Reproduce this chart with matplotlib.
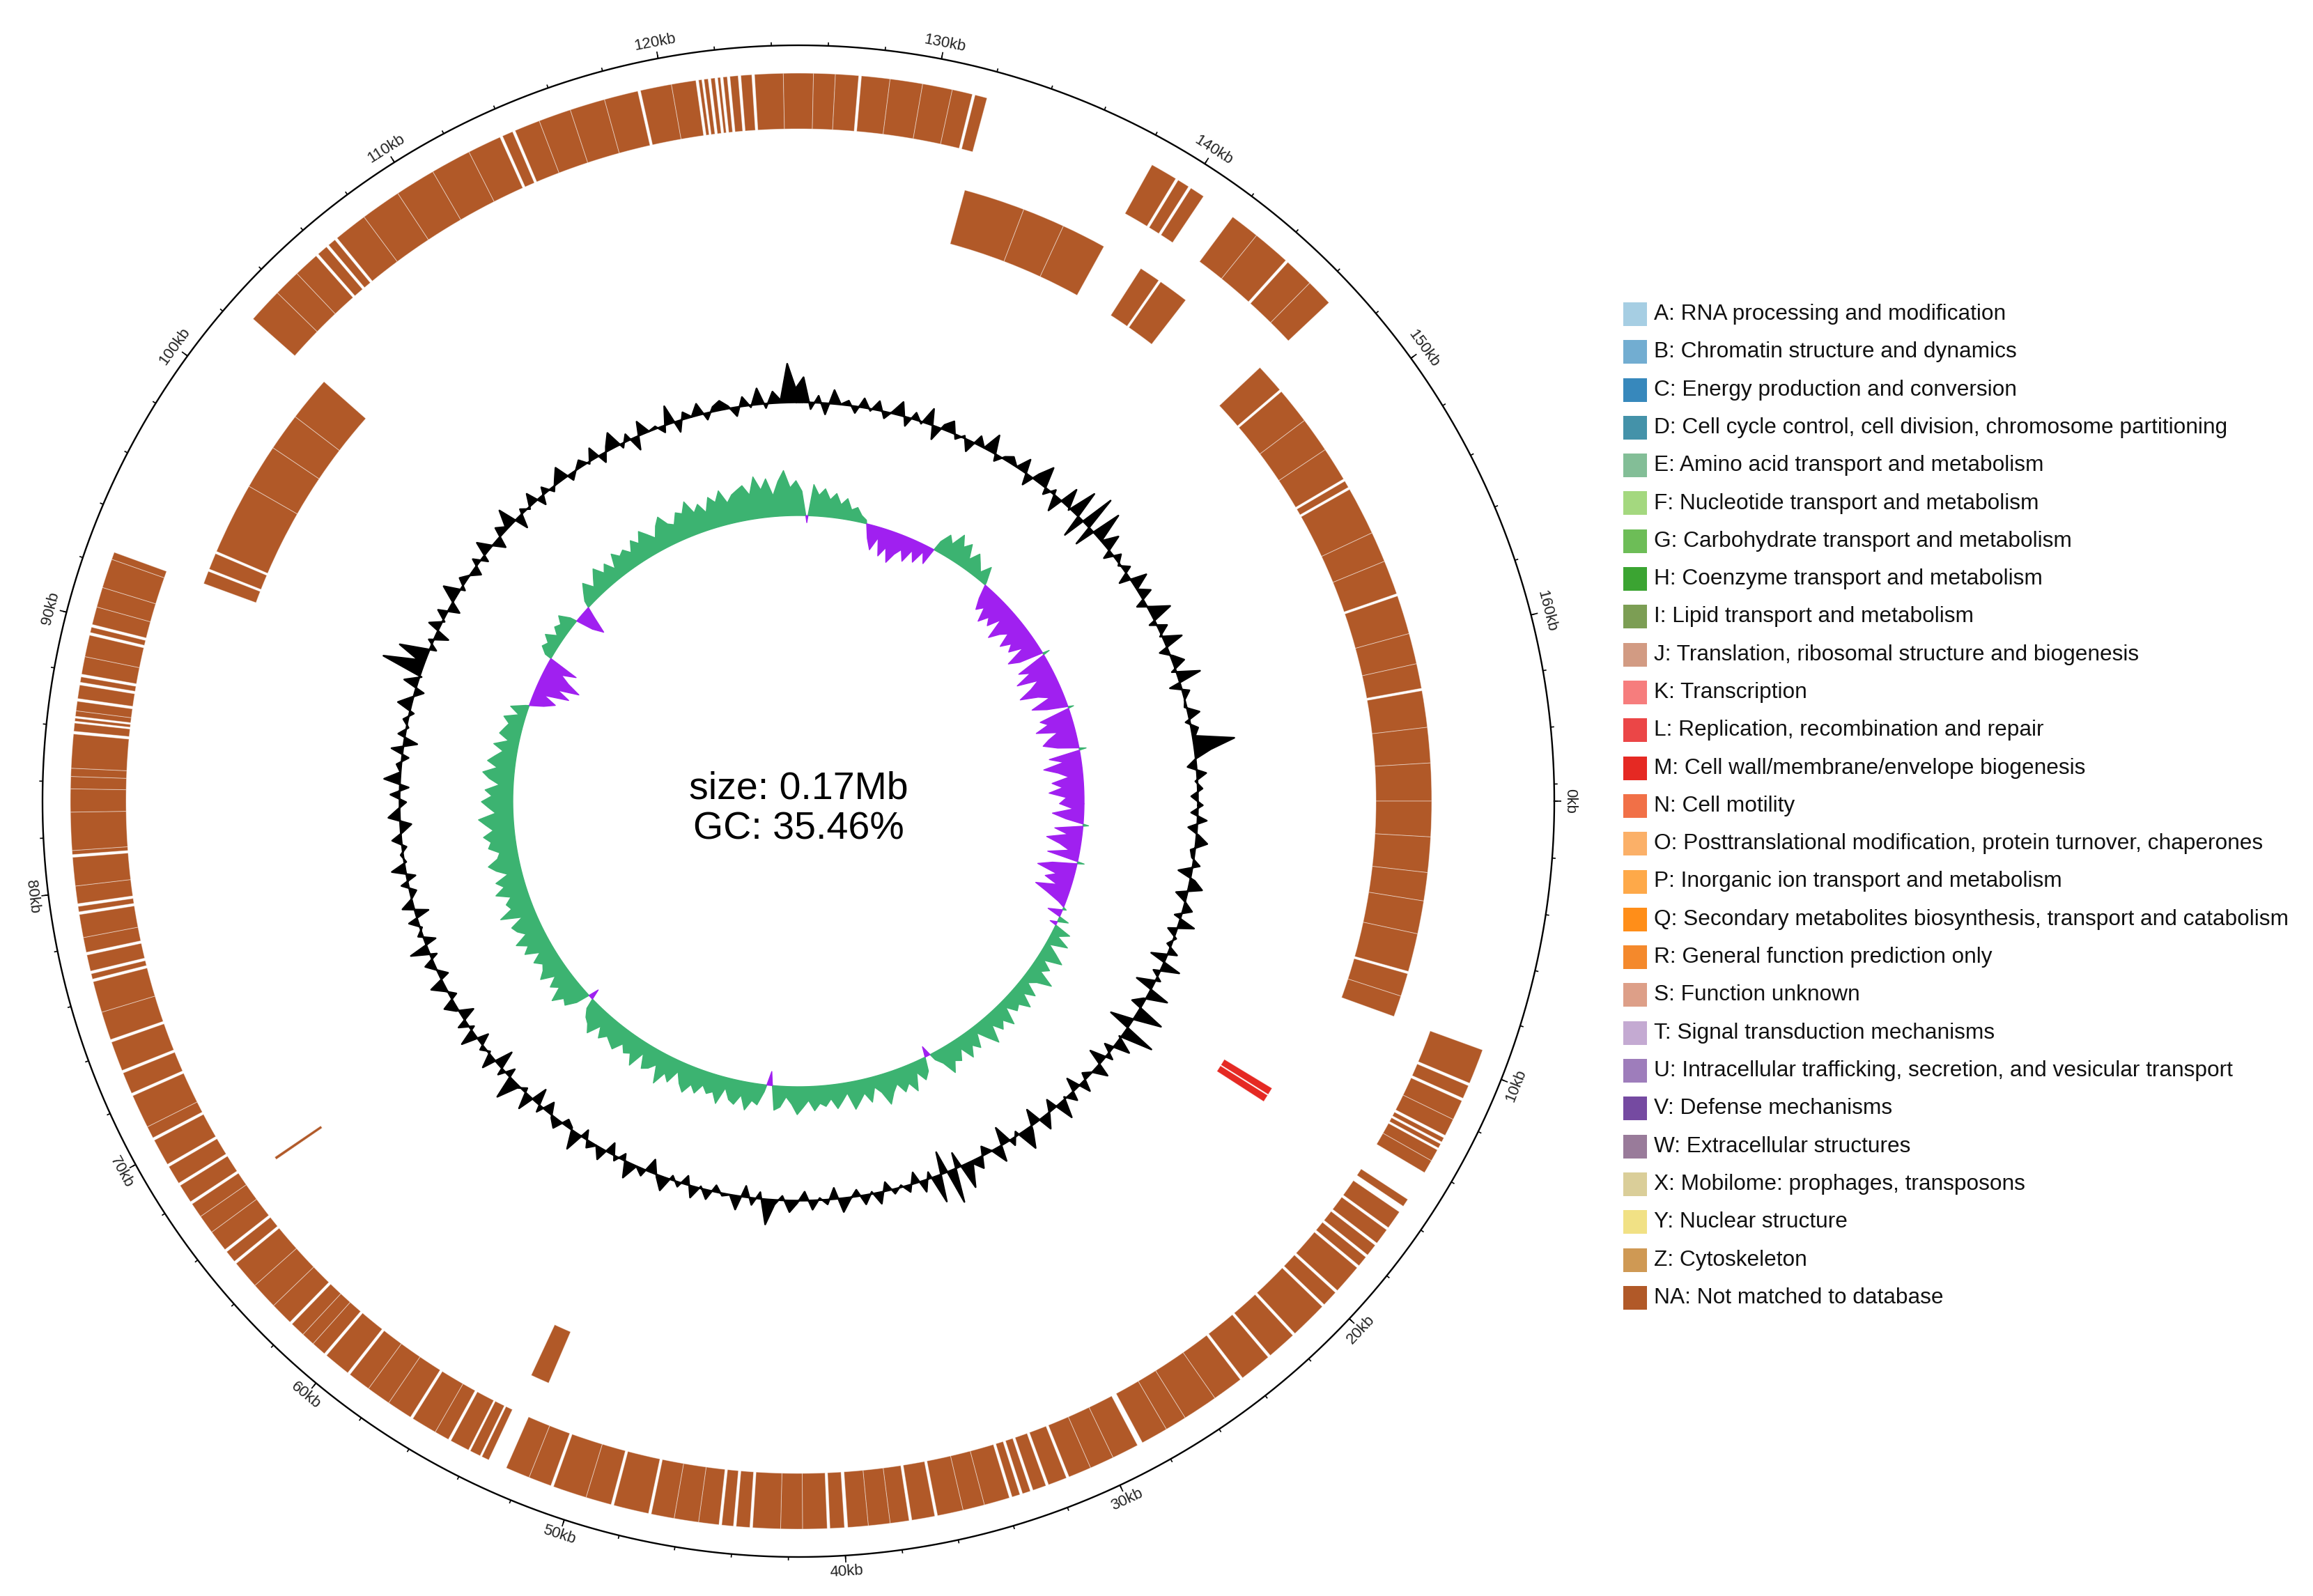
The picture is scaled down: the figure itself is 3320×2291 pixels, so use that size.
import numpy as np
import matplotlib
matplotlib.use("Agg")
import matplotlib.pyplot as plt
from matplotlib.patches import Rectangle
from matplotlib.colors import LinearSegmentedColormap, to_hex

plt.rcParams["font.family"] = ["Liberation Sans", "DejaVu Sans"]

# --- Data ---
genome_kb = 166.6
gc_mean = 35.46
window_kb = 0.5

cog_codes = list("ABCDEFGHIJKLMNOPQRSTUVWXYZ") + ["NA"]
cog_names = [
    "RNA processing and modification",
    "Chromatin structure and dynamics",
    "Energy production and conversion",
    "Cell cycle control, cell division, chromosome partitioning",
    "Amino acid transport and metabolism",
    "Nucleotide transport and metabolism",
    "Carbohydrate transport and metabolism",
    "Coenzyme transport and metabolism",
    "Lipid transport and metabolism",
    "Translation, ribosomal structure and biogenesis",
    "Transcription",
    "Replication, recombination and repair",
    "Cell wall/membrane/envelope biogenesis",
    "Cell motility",
    "Posttranslational modification, protein turnover, chaperones",
    "Inorganic ion transport and metabolism",
    "Secondary metabolites biosynthesis, transport and catabolism",
    "General function prediction only",
    "Function unknown",
    "Signal transduction mechanisms",
    "Intracellular trafficking, secretion, and vesicular transport",
    "Defense mechanisms",
    "Extracellular structures",
    "Mobilome: prophages, transposons",
    "Nuclear structure",
    "Cytoskeleton",
    "Not matched to database",
]

# genes on the outer ring (start kb, end kb), all "NA"
outer_genes = [
    (9.25, 10.55), (10.65, 11.15), (11.25, 12.0), (12.0, 12.65), (12.75, 12.92),
    (13.0, 13.17), (13.25, 13.7), (13.7, 14.2),
    (15.35, 15.65),
    (15.9, 16.6), (16.7, 17.3), (17.4, 17.85), (17.95, 18.35), (18.45, 19.55),
    (19.65, 20.25), (20.35, 21.75), (21.85, 22.95), (23.05, 24.25), (24.35, 25.5),
    (25.5, 26.8), (26.8, 27.6), (27.6, 28.6), (28.8, 29.8), (29.8, 30.7),
    (30.7, 31.55), (31.65, 32.35), (32.45, 32.95), (33.05, 33.35), (33.45, 33.75),
    (33.85, 34.8), (34.8, 35.6), (35.6, 36.55), (36.65, 37.5), (37.6, 38.3),
    (38.3, 39.1), (39.1, 39.85), (39.97, 40.5), (40.6, 41.5), (41.5, 42.3),
    (42.3, 43.32), (43.42, 43.92), (44.02, 44.45), (44.55, 45.3), (45.3, 46.2),
    (46.2, 47.05), (47.15, 48.45), (48.55, 49.5), (49.5, 50.75), (50.85, 51.7),
    (51.7, 52.6),
    (53.3, 53.58), (53.65, 54.05), (54.12, 54.85), (54.95, 55.5), (55.5, 56.45),
    (56.55, 57.5), (57.5, 58.4), (58.4, 59.25), (59.35, 60.35), (60.45, 61.0),
    (61.0, 61.5), (61.5, 62.05), (62.15, 63.0), (63.0, 64.0), (64.0, 65.05),
    (65.15, 65.6), (65.7, 66.5), (66.5, 67.2), (67.2, 67.75), (67.85, 68.55),
    (68.65, 69.35), (69.45, 70.45), (70.55, 71.0), (71.0, 72.25), (72.35, 73.15),
    (73.25, 74.35), (74.45, 75.5), (75.5, 76.65), (76.75, 76.95), (77.05, 77.65),
    (77.75, 78.3), (78.3, 79.15), (79.25, 79.45), (79.55, 80.2), (80.2, 81.25),
    (81.35, 81.5), (81.5, 82.9), (82.9, 83.75), (83.75, 84.2), (84.2, 84.5),
    (84.5, 85.75), (85.85, 86.15), (86.22, 86.33), (86.4, 86.6), (86.6, 86.95),
    (87.05, 87.55), (87.65, 87.85), (87.95, 88.6), (88.6, 89.4), (89.5, 89.7),
    (89.8, 90.46), (90.46, 91.2), (91.2, 92.28), (92.28, 92.55),
    (102.5, 103.8), (103.8, 104.8), (104.8, 105.75), (105.85, 106.25), (106.35, 106.65),
    (106.75, 108.0), (108.0, 109.5), (109.5, 111.0), (111.0, 112.5), (112.5, 113.75),
    (113.85, 114.25), (114.35, 115.3), (115.3, 116.5), (116.5, 117.8), (117.8, 119.05),
    (119.15, 120.3), (120.3, 121.2), (121.3, 121.42), (121.5, 121.65), (121.75, 121.9),
    (122.0, 122.1), (122.2, 122.35), (122.45, 122.75), (122.85, 123.25), (123.35, 124.4),
    (124.4, 125.5), (125.5, 126.3), (126.3, 127.15), (127.25, 128.3), (128.3, 129.5),
    (129.5, 130.6), (130.6, 131.35), (131.45, 131.9),
    (138.4, 139.4), (139.5, 139.95), (140.05, 140.6),
    (141.9, 143.0), (143.0, 144.4), (144.5, 145.6), (145.6, 146.6),
]

# genes on the inner ring
inner_genes = [
    (146.6, 147.85), (147.95, 149.5), (149.5, 151.0), (151.0, 152.45), (152.55, 152.85),
    (152.95, 155.0), (155.0, 156.3), (156.3, 157.75), (157.85, 159.5), (159.5, 160.8),
    (160.8, 161.85), (161.95, 163.5), (163.5, 165.0), (165.0, 166.6),
    (0.0, 1.5), (1.5, 3.0), (3.0, 4.2), (4.2, 5.6), (5.6, 7.22), (7.32, 8.3), (8.3, 9.2),
    (52.4, 53.2),
    (67.35, 67.47),
    (92.6, 93.15), (93.25, 93.95), (94.05, 97.1), (97.1, 99.0), (99.0, 100.6), (100.6, 102.5),
    (132.0, 134.6), (134.6, 136.4), (136.4, 138.3),
    (140.1, 141.0), (141.1, 142.4),
]

# genes on the third ring, class M
third_genes = [(14.45, 14.8), (14.85, 15.2)]
third_cog = "M"

# GC content (%) per 0.5 kb window, 10 kb per row
gc_content = [
    36.5, 34.0, 37.5, 33.5, 36.0, 38.0, 34.5, 35.0, 37.0, 32.5, 36.5, 38.5, 33.0, 35.5, 37.5, 34.0, 39.0, 33.5, 36.0, 34.5,
    37.5, 32.0, 39.5, 34.0, 36.5, 31.5, 40.0, 35.0, 33.0, 41.5, 36.0, 30.5, 42.5, 35.0, 39.0, 33.5, 37.0, 32.0, 38.5, 35.5,
    34.0, 38.0, 32.5, 37.5, 35.0, 39.5, 33.0, 36.0, 38.5, 32.0, 36.5, 40.0, 34.5, 37.0, 31.5, 39.0, 35.5, 33.5, 38.0, 36.0,
    41.0, 32.0, 43.0, 30.5, 41.5, 34.0, 38.0, 33.0, 37.0, 35.0, 36.5, 33.5, 38.0, 35.0, 37.5, 34.0, 36.0, 38.5, 33.0, 36.5,
    35.0, 37.5, 33.5, 36.0, 38.0, 34.5, 36.5, 41.0, 34.0, 37.0, 33.0, 38.5, 35.5, 36.0, 34.0, 37.5, 35.0, 38.0, 33.5, 36.5,
    34.5, 38.5, 36.0, 32.5, 37.0, 35.5, 39.0, 34.0, 36.5, 33.0, 38.0, 35.5, 37.0, 33.5, 39.5, 35.0, 34.0, 37.5, 36.0, 33.0,
    37.0, 32.0, 39.0, 34.5, 36.0, 40.5, 33.5, 37.0, 31.5, 38.5, 35.0, 36.5, 33.0, 39.0, 34.5, 37.5, 32.5, 36.0, 38.0, 34.0,
    36.0, 38.5, 33.5, 35.5, 37.5, 34.0, 39.5, 33.0, 36.5, 35.0, 37.5, 32.5, 38.0, 35.5, 34.0, 37.0, 33.5, 38.5, 35.0, 36.0,
    34.5, 37.5, 35.0, 33.0, 38.0, 36.0, 34.0, 37.5, 33.5, 39.0, 35.5, 36.5, 34.0, 38.0, 32.5, 37.0, 35.0, 36.5, 34.5, 38.5,
    36.0, 33.5, 38.5, 35.0, 44.5, 37.0, 42.0, 34.0, 36.5, 32.5, 38.0, 35.0, 37.5, 33.0, 36.0, 39.0, 34.5, 37.0, 35.5, 33.5,
    37.0, 34.0, 38.5, 35.5, 33.0, 37.5, 36.0, 39.5, 32.5, 36.5, 35.0, 38.0, 33.5, 37.0, 34.5, 36.5, 38.5, 34.0, 35.5, 37.0,
    35.0, 38.0, 33.5, 36.5, 39.0, 34.5, 37.0, 32.5, 38.5, 35.5, 36.0, 34.0, 39.5, 33.0, 37.0, 35.5, 38.0, 34.0, 36.5, 37.5,
    36.0, 33.5, 37.5, 35.0, 39.0, 34.5, 38.0, 36.0, 44.0, 38.5, 41.0, 34.0, 37.0, 33.0, 38.5, 35.5, 36.5, 34.0, 37.5, 35.0,
    37.5, 34.0, 36.0, 38.5, 33.5, 37.0, 35.0, 39.0, 32.5, 36.5, 38.0, 34.5, 36.0, 33.0, 37.5, 35.5, 39.5, 34.0, 36.0, 37.0,
    35.5, 38.5, 33.0, 37.0, 40.0, 34.0, 36.5, 32.0, 39.5, 35.0, 41.5, 30.5, 43.0, 31.0, 42.0, 35.5, 39.0, 33.5, 37.0, 35.0,
    37.0, 33.0, 39.0, 35.5, 38.0, 33.5, 36.5, 40.0, 34.0, 37.5, 35.0, 39.5, 33.5, 36.0, 38.0, 34.5, 40.5, 33.0, 37.0, 35.5,
    35.0, 38.0, 34.5, 37.0, 36.0, 44.5, 39.0, 35.5, 33.5, 37.5, 35.0, 36.5, 34.0,
]

# GC skew per 0.5 kb window, 10 kb per row
gc_skew = [
    -0.35, -0.15, -0.45, -0.25, 0.08, -0.4, -0.2, -0.5, -0.3, -0.15, -0.45, 0.1, -0.35, -0.55, -0.25, -0.4, -0.2, -0.5, -0.3, -0.1,
    0.05, -0.2, 0.15, -0.1, 0.25, 0.1, 0.3, 0.05, 0.2, 0.35, 0.1, 0.25, 0.15, 0.4, 0.2, 0.1, 0.3, 0.15, 0.35, 0.2,
    0.25, 0.1, 0.35, 0.2, 0.3, 0.15, 0.4, 0.25, 0.1, 0.3, 0.2, 0.35, 0.15, 0.3, 0.25, 0.4, 0.2, 0.1, -0.15, 0.2,
    0.3, 0.15, 0.4, 0.25, 0.35, 0.2, 0.3, 0.45, 0.25, 0.15, 0.35, 0.2, 0.3, 0.4, 0.15, 0.25, 0.35, 0.2, 0.3, 0.25,
    0.35, 0.2, 0.3, 0.4, 0.25, 0.15, 0.3, 0.35, -0.2, 0.1, 0.3, 0.25, 0.4, 0.2, 0.35, 0.3, 0.15, 0.4, 0.25, 0.3,
    0.2, 0.35, 0.25, 0.4, 0.3, 0.15, 0.35, 0.25, 0.45, 0.2, 0.3, 0.35, 0.15, 0.4, 0.25, 0.3, 0.2, 0.35, 0.3, 0.25,
    0.35, 0.2, 0.4, 0.3, 0.25, 0.15, -0.15, 0.2, 0.35, 0.3, 0.45, 0.25, 0.35, 0.2, 0.4, 0.3, 0.25, 0.35, 0.2, 0.4,
    0.3, 0.45, 0.25, 0.35, 0.4, 0.2, 0.5, 0.3, 0.35, 0.25, 0.45, 0.3, 0.4, 0.2, 0.35, 0.45, 0.3, 0.25, 0.4, 0.35,
    0.45, 0.3, 0.4, 0.5, 0.25, 0.35, 0.45, 0.3, 0.4, 0.2, 0.35, 0.45, 0.25, 0.4, 0.3, 0.2, 0.35, 0.15, 0.3, 0.25,
    0.2, 0.3, 0.1, 0.25, 0.05, -0.2, -0.35, -0.15, -0.5, -0.3, -0.6, -0.4, -0.25, -0.45, 0.1, 0.2, 0.15, 0.25, 0.1, 0.2,
    0.15, 0.25, 0.1, -0.25, -0.4, -0.15, 0.1, 0.2, 0.3, 0.15, 0.25, 0.35, 0.2, 0.3, 0.15, 0.35, 0.25, 0.3, 0.2, 0.35,
    0.25, 0.4, 0.3, 0.2, 0.35, 0.45, 0.3, 0.25, 0.4, 0.35, 0.5, 0.3, 0.4, 0.25, 0.45, 0.35, 0.5, 0.3, 0.4, 0.45,
    0.5, 0.35, 0.6, 0.4, 0.55, 0.3, 0.5, 0.65, 0.4, 0.5, 0.35, -0.1, 0.45, 0.3, 0.4, 0.25, 0.35, 0.2, 0.3, 0.15,
    0.2, 0.1, 0.05, -0.2, -0.35, -0.15, -0.4, -0.25, -0.45, -0.3, -0.2, -0.35, -0.15, -0.3, -0.1, -0.25, 0.15, 0.3, 0.2, 0.4,
    0.25, 0.35, 0.15, 0.3, 0.2, 0.1, 0.25, 0.05, -0.2, -0.35, -0.25, -0.45, -0.3, -0.4, -0.2, -0.5, -0.35, -0.25, -0.45, -0.3,
    -0.4, -0.2, -0.5, -0.35, 0.1, -0.45, -0.3, -0.55, -0.25, -0.4, -0.6, -0.35, -0.2, -0.5, -0.3, 0.08, -0.45, -0.35, -0.55, -0.25,
    -0.4, -0.5, -0.3, 0.1, -0.45, -0.25, -0.55, -0.35, -0.2, -0.45, -0.3, -0.5, -0.25,
]

# --- Colors: Paired palette stretched to 27 classes ---
paired = ["#A6CEE3", "#1F78B4", "#B2DF8A", "#33A02C", "#FB9A99", "#E31A1C",
          "#FDBF6F", "#FF7F00", "#CAB2D6", "#6A3D9A", "#FFFF99", "#B15928"]
ramp = LinearSegmentedColormap.from_list("paired_ramp", paired)
cog_colors = [to_hex(ramp(i / (len(cog_codes) - 1))) for i in range(len(cog_codes))]
color_of = dict(zip(cog_codes, cog_colors))

# --- Figure ---
W, H = 3320, 2291
DPI = 200
fig = plt.figure(figsize=(W / DPI, H / DPI), dpi=DPI)

cx, cy = 1146, 1150        # circle centre in pixels
rmax = 1130
ax = fig.add_axes([(cx - rmax) / W, (H - cy - rmax) / H, 2 * rmax / W, 2 * rmax / H],
                  projection="polar")
ax.set_theta_zero_location("E")
ax.set_theta_direction(-1)
ax.set_ylim(0, rmax)
ax.axis("off")


def to_theta(kb):
    return np.deg2rad(np.asarray(kb, dtype=float) / genome_kb * 360.0)


R_AXIS = 1085
R_OUT = (965, 1045)
R_IN = (829, 909)
R_THIRD = (715, 795)
R_GC = 573
R_SKEW = 410

edge = (1, 1, 1, 0.45)


def draw_ring(genes, rr, color):
    s = np.array([g[0] for g in genes])
    e = np.array([g[1] for g in genes])
    t0, t1 = to_theta(s), to_theta(e)
    ax.bar((t0 + t1) / 2, rr[1] - rr[0], width=t1 - t0, bottom=rr[0],
           color=color, edgecolor=edge, linewidth=0.35, align="center")


draw_ring(outer_genes, R_OUT, color_of["NA"])
draw_ring(inner_genes, R_IN, color_of["NA"])
draw_ring(third_genes, R_THIRD, color_of[third_cog])

# GC content
gc = np.array(gc_content, dtype=float)
pos = (np.arange(len(gc)) + 0.5) * window_kb
th = to_theta(np.append(pos, pos[0] + genome_kb))
dev = np.append(gc, gc[0]) - gc_mean
ax.fill_between(th, R_GC, R_GC + dev * 6.5, facecolor="black", edgecolor="black",
                linewidth=0.9)

# GC skew
sk = np.append(np.array(gc_skew, dtype=float), gc_skew[0])
ax.fill_between(th, R_SKEW, R_SKEW + sk * 100, where=sk >= 0, interpolate=True,
                facecolor="#3CB371", edgecolor="#3CB371", linewidth=0.5)
ax.fill_between(th, R_SKEW, R_SKEW + sk * 100, where=sk <= 0, interpolate=True,
                facecolor="#A020F0", edgecolor="#A020F0", linewidth=0.5)

# outer axis circle with ticks
circ = np.linspace(0, 2 * np.pi, 1441)
ax.plot(circ, np.full_like(circ, R_AXIS), color="black", linewidth=0.85)
minor = np.arange(0, genome_kb, 2)
major = np.arange(0, genome_kb, 10)
ax.vlines(to_theta(minor), R_AXIS, R_AXIS + 5, color="black", linewidth=0.6)
ax.vlines(to_theta(major), R_AXIS, R_AXIS + 10, color="black", linewidth=0.6)

for k in major:
    t = float(to_theta(k))
    phi = -np.rad2deg(t)
    phi = (phi + 180) % 360 - 180
    rot = phi - 90 if phi >= 0 else phi + 90
    ax.text(t, 1108, f"{int(k)}kb", rotation=rot, rotation_mode="anchor",
            ha="center", va="center", fontsize=8, color="#222222")

# centre text
ax.text(0.5, 0.495, "size: 0.17Mb\nGC: 35.46%", transform=ax.transAxes,
        ha="center", va="center", fontsize=20, linespacing=1.15)

# --- Legend ---
x_patch, y_first, pitch, box = 2330, 451, 54.3, 34
for i, (code, name) in enumerate(zip(cog_codes, cog_names)):
    yc = y_first + i * pitch
    fig.add_artist(Rectangle((x_patch / W, 1 - (yc + box / 2) / H), box / W, box / H,
                             transform=fig.transFigure, facecolor=color_of[code],
                             edgecolor="none"))
    fig.text((x_patch + box + 10) / W, 1 - yc / H, f"{code}: {name}",
             ha="left", va="center", fontsize=11.4, color="#111111")

fig.savefig("out.png", dpi=DPI, facecolor="white")
